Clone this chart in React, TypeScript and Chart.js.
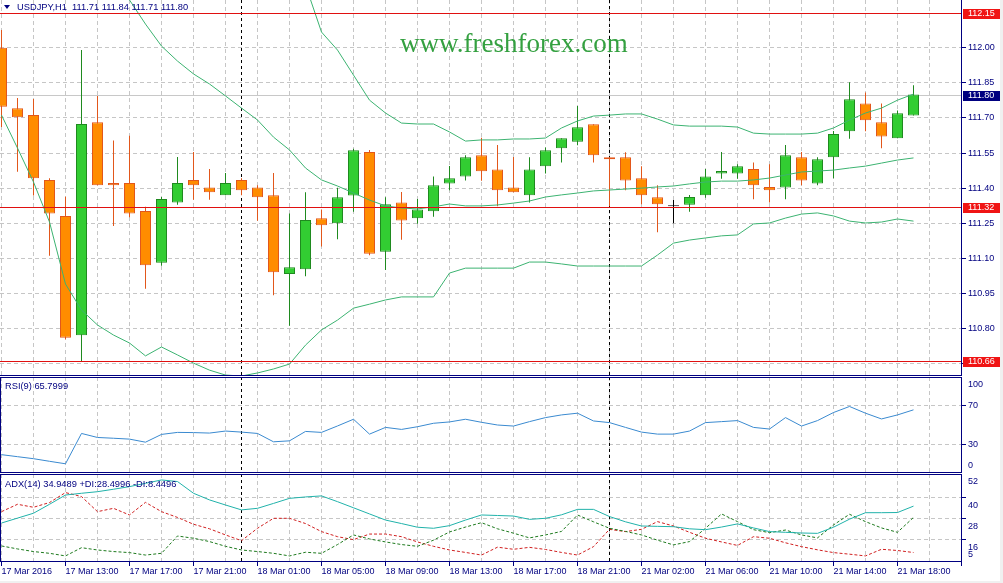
import React, { useEffect, useRef } from "react";
import { Chart, registerables } from "chart.js";

Chart.register(...registerables);
Chart.defaults.font.family = "'Liberation Sans', Arial, sans-serif";
Chart.defaults.font.size = 9;

// ---------------- data ----------------
const symbol = "USDJPY";
const timeframe = "H1";
const tickLabels = [
  "17 Mar 2016", "17 Mar 13:00", "17 Mar 17:00", "17 Mar 21:00", "18 Mar 01:00",
  "18 Mar 05:00", "18 Mar 09:00", "18 Mar 13:00", "18 Mar 17:00", "18 Mar 21:00",
  "21 Mar 02:00", "21 Mar 06:00", "21 Mar 10:00", "21 Mar 14:00", "21 Mar 18:00",
];
const daySeparators = [15, 38];

const opens = [
  112.0, 111.741, 111.712, 111.435, 111.281, 110.771, 111.681, 111.422, 111.422, 111.302,
  111.081, 111.339, 111.435, 111.403, 111.369, 111.435, 111.403, 111.369, 111.033, 111.053,
  111.271, 111.25, 111.368, 111.554, 111.128, 111.339, 111.271, 111.301, 111.42, 111.45,
  111.54, 111.48, 111.403, 111.369, 111.493, 111.57, 111.598, 111.673, 111.532, 111.532,
  111.442, 111.361, 111.323, 111.329, 111.369, 111.463, 111.463, 111.482, 111.405, 111.403,
  111.532, 111.42, 111.532, 111.643, 111.762, 111.681, 111.613, 111.71,
];
const highs = [
  112.076, 111.785, 111.781, 111.442, 111.363, 111.99, 111.794, 111.603, 111.624, 111.32,
  111.362, 111.533, 111.554, 111.482, 111.465, 111.442, 111.412, 111.465, 111.292, 111.382,
  111.309, 111.402, 111.568, 111.563, 111.361, 111.383, 111.353, 111.45, 111.494, 111.541,
  111.615, 111.584, 111.533, 111.532, 111.574, 111.613, 111.751, 111.673, 111.532, 111.553,
  111.493, 111.412, 111.349, 111.371, 111.482, 111.554, 111.502, 111.51, 111.502, 111.584,
  111.554, 111.532, 111.644, 111.852, 111.809, 111.762, 111.732, 111.84,
];
const lows = [
  111.661, 111.47, 111.368, 111.111, 110.754, 110.66, 111.412, 111.238, 111.275, 110.97,
  111.068, 111.329, 111.35, 111.35, 111.369, 111.369, 111.261, 110.942, 110.812, 111.023,
  111.151, 111.181, 111.299, 111.113, 111.05, 111.179, 111.248, 111.278, 111.391, 111.433,
  111.432, 111.323, 111.382, 111.339, 111.462, 111.51, 111.583, 111.51, 111.323, 111.391,
  111.331, 111.211, 111.25, 111.299, 111.359, 111.44, 111.44, 111.352, 111.339, 111.352,
  111.412, 111.412, 111.442, 111.611, 111.643, 111.57, 111.613, 111.71,
];
const closes = [
  111.748, 111.703, 111.442, 111.292, 110.761, 111.674, 111.412, 111.412, 111.292, 111.07,
  111.353, 111.422, 111.412, 111.382, 111.422, 111.391, 111.361, 111.04, 111.062, 111.264,
  111.241, 111.361, 111.562, 111.12, 111.331, 111.262, 111.309, 111.412, 111.442, 111.532,
  111.472, 111.391, 111.382, 111.48, 111.562, 111.613, 111.66, 111.54, 111.523, 111.433,
  111.369, 111.331, 111.323, 111.362, 111.45, 111.473, 111.493, 111.412, 111.391, 111.54,
  111.433, 111.523, 111.631, 111.78, 111.69, 111.621, 111.72, 111.8,
];

const bbUpper = [
  null, null, null, null, null, null, null, null, null, null,
  null, null, null, null, null, null, null, null, 112.46, 112.268,
  112.067, 111.99, 111.883, 111.776, 111.721, 111.678, 111.674, 111.674, 111.64, 111.601,
  111.606, 111.606, 111.61, 111.61, 111.614, 111.657, 111.687, 111.708, 111.712, 111.717,
  111.717, 111.695, 111.67, 111.665, 111.665, 111.665, 111.661, 111.635, 111.631, 111.631,
  111.631, 111.635, 111.657, 111.691, 111.721, 111.742, 111.776, 111.802,
];
const bbMiddle = [
  null, null, null, null, null, null, null, 112.31, 112.204, 112.101,
  112.007, 111.943, 111.888, 111.845, 111.794, 111.742, 111.691, 111.618, 111.563, 111.486,
  111.435, 111.409, 111.379, 111.349, 111.324, 111.315, 111.311, 111.32, 111.332, 111.324,
  111.324, 111.328, 111.336, 111.345, 111.362, 111.371, 111.379, 111.388, 111.392, 111.396,
  111.4, 111.405, 111.409, 111.418, 111.426, 111.43, 111.43, 111.435, 111.443, 111.456,
  111.469, 111.473, 111.477, 111.486, 111.494, 111.507, 111.52, 111.529,
];
const bbLower = [
  111.712, 111.571, 111.426, 111.255, 110.99, 110.879, 110.815, 110.772, 110.738, 110.683,
  110.721, 110.687, 110.652, 110.622, 110.601, 110.597, 110.61, 110.627, 110.648, 110.729,
  110.794, 110.836, 110.887, 110.904, 110.922, 110.935, 110.935, 110.935, 111.037, 111.058,
  111.058, 111.058, 111.058, 111.084, 111.084, 111.076, 111.067, 111.067, 111.067, 111.067,
  111.067, 111.114, 111.165, 111.178, 111.187, 111.196, 111.2, 111.247, 111.251, 111.272,
  111.289, 111.294, 111.281, 111.259, 111.251, 111.255, 111.268, 111.259,
];

const rsiValues = [
  19.1, 17, 14.9, 12.2, 9.6, 41.2, 37, 36.2, 35.3, 32.1,
  40.2, 42.3, 42.1, 41.6, 43.7, 42.6, 41.2, 32.5, 33.5, 43.3,
  42.3, 49, 56, 40.5, 47.5, 45.4, 48.2, 51.8, 53.2, 56,
  52.8, 50, 48.9, 53.5, 57.7, 60.5, 62.3, 54.2, 52.5, 47.5,
  42.6, 40.5, 40.5, 43.7, 52.5, 53.5, 54.6, 47.5, 45.8, 57.7,
  48.9, 54.6, 63, 69.3, 62.3, 56.3, 60.5, 65.7999,
];
const adxValues = [
  25.3, 28.1, 30.9, 36, 41.3, 42.3, 43.2, 44.6, 46.1, 48,
  49.9, 49, 42.3, 38.5, 35.6, 32.8, 33.7, 36.5, 39.4, 40.2,
  40.8, 37.5, 34, 30.5, 27, 25, 22.9, 22.3, 23.8, 27,
  29.9, 29.6, 29.3, 27.4, 28, 30, 33.1, 33.1, 29, 26,
  23.6, 23.4, 23.2, 22, 21.5, 23, 24.8, 22.5, 20.4, 20,
  19.6, 19.4, 22.9, 27.5, 31.2, 31.2, 31.3, 34.9489,
];
const plusDI = [
  12.2, 10.5, 9, 8, 6.5, 11.2, 9.9, 9, 8.4, 7,
  8, 17.9, 16.6, 14.7, 12, 9.9, 9, 8, 6.5, 8.6,
  8, 13, 18.5, 16.2, 14.5, 13, 12, 15.5, 20.2, 23,
  25.5, 22, 19.5, 16.8, 18.5, 20.5, 29.9, 26, 22.3, 20.5,
  18.5, 15.5, 12.8, 14.7, 22.3, 30.5, 26.1, 21.5, 19.8, 21.3,
  18.5, 16.8, 24.2, 30.3, 26.1, 22.5, 20, 28.4996,
];
const minusDI = [
  31.8, 36, 34.3, 37, 42.7, 40.4, 31.8, 33.7, 29.9, 37.1,
  31.8, 28.5, 24.6, 22, 18.5, 15.2, 22.3, 28, 28, 25,
  20.4, 17.5, 15.8, 19, 19, 17.5, 14.5, 12, 9.9, 8.5,
  7, 11.5, 10.3, 11.4, 10.2, 8.5, 7, 11.8, 21.7, 20.4,
  21.7, 26.1, 23.6, 20, 16.6, 14.5, 12.5, 17.5, 16.6, 14,
  11.8, 10, 8.4, 7.5, 6.5, 10.3, 9.6, 8.4496,
];

const priceTicks = [112.0, 111.85, 111.7, 111.55, 111.4, 111.25, 111.1, 110.95, 110.8, 110.65];
const levelLines = [112.15, 111.32, 110.66];
const bidPrice = 111.8;
const rsiTicks = [70, 30];
const rsiBounds = [100, 0];
const adxTicks = [40, 28, 16];
const adxBounds = [52, 5];

// ---------------- layout / style ----------------
const W = 1003;
const AXIS_W = 41;
const BAR_PX = 16;
const X_MIN = -1.5 / BAR_PX;
const X_MAX = X_MIN + (W - AXIS_W) / BAR_PX;
const PRICE_MIN = 110.597;
const PRICE_MAX = 112.204;
const ADX_MIN = 3.03;
const ADX_MAX = 53.31;

const NAVY = "#000080";
const GRID = "#c6c6c6";
const BULL_FILL = "#32cd32";
const BULL_LINE = "#1f8a1f";
const BEAR_FILL = "#ff8c00";
const BEAR_LINE = "#e2571b";
const DOJI = "#000000";
const BB = "#3cb371";
const LEVEL = "#e01010";
const LEVEL_BOX = "#f01414";
const BID_LINE = "#c8c8c8";
const RSI_C = "#3a8ad0";
const ADX_C = "#20b2aa";
const PDI_C = "#1e7a1e";
const MDI_C = "#d02020";
const FONT = "9px 'Liberation Sans', Arial, sans-serif";

const gridIdx: number[] = [];
for (let k = 0; k * BAR_PX < W - AXIS_W; k += 2) gridIdx.push(k);

const decor = {
  id: "decor",
  beforeDatasetsDraw(chart: any, _a: any, o: any) {
    const { ctx, chartArea: ca, scales } = chart;
    ctx.save();
    if (o.bid != null) {
      const py = Math.round(scales.y.getPixelForValue(o.bid));
      ctx.fillStyle = BID_LINE;
      ctx.fillRect(ca.left, py, ca.right - ca.left, 1);
    }
    ctx.strokeStyle = "#000";
    ctx.lineWidth = 1;
    ctx.setLineDash([3, 3]);
    for (const k of daySeparators) {
      const px = Math.floor(scales.x.getPixelForValue(k)) + 0.5;
      ctx.beginPath();
      ctx.moveTo(px, ca.top);
      ctx.lineTo(px, ca.bottom);
      ctx.stroke();
    }
    ctx.restore();
  },
  afterDatasetsDraw(chart: any, _a: any, o: any) {
    if (!o.levels) return;
    const { ctx, chartArea: ca, scales } = chart;
    ctx.save();
    ctx.fillStyle = LEVEL;
    for (const v of o.levels) {
      const py = Math.round(scales.y.getPixelForValue(v));
      ctx.fillRect(ca.left, py, ca.right - ca.left, 1);
    }
    ctx.restore();
  },
  afterDraw(chart: any, _a: any, o: any) {
    const { ctx, chartArea: ca, scales } = chart;
    const w = ca.right - ca.left;
    const h = ca.bottom - ca.top;
    ctx.save();
    ctx.fillStyle = NAVY;
    if (o.frameLeft) ctx.fillRect(ca.left, ca.top, 1, h);
    if (o.frameTop) ctx.fillRect(ca.left, ca.top, w, 1);
    ctx.fillRect(ca.right - 1, ca.top, 1, h);
    ctx.fillRect(ca.left, ca.bottom - 1, w, 1);
    ctx.font = FONT;
    ctx.textBaseline = "middle";
    ctx.textAlign = "left";
    if (o.edges) {
      ctx.fillStyle = NAVY;
      ctx.fillText(String(o.edges[0]), ca.right + 6, ca.top + 8);
      ctx.fillText(String(o.edges[1]), ca.right + 6, ca.bottom - 7.5);
    }
    const box = (v: number, bg: string) => {
      const py = Math.round(scales.y.getPixelForValue(v));
      ctx.fillStyle = bg;
      ctx.fillRect(ca.right + 1, py - 4, 37, 10);
      ctx.fillStyle = "#fff";
      ctx.fillText(v.toFixed(2), ca.right + 6, py + 1);
    };
    if (o.levels) o.levels.forEach((v: number) => box(v, LEVEL_BOX));
    if (o.bid != null) box(o.bid, NAVY);
    ctx.restore();
  },
};

function xScale(showLabels: boolean, height: number) {
  return {
    type: "linear",
    min: X_MIN,
    max: X_MAX,
    offset: false,
    afterBuildTicks: (s: any) => {
      s.ticks = gridIdx.map((v) => ({ value: v }));
    },
    afterFit: (s: any) => {
      s.height = height;
      s.paddingLeft = 0;
      s.paddingRight = 0;
    },
    grid: {
      offset: false,
      color: GRID,
      lineWidth: 1,
      drawTicks: showLabels,
      tickLength: 4,
      tickWidth: 1,
      tickBorderDash: [],
      tickColor: (c: any) => (c.tick && c.tick.value % 4 === 0 ? NAVY : "rgba(0,0,0,0)"),
    },
    border: { display: false, dash: [4, 3] },
    ticks: {
      display: showLabels,
      autoSkip: false,
      maxRotation: 0,
      minRotation: 0,
      align: "start",
      padding: 0,
      color: NAVY,
      font: { size: 9 },
      callback: (v: number) => (v % 4 === 0 && tickLabels[v / 4] ? tickLabels[v / 4] : ""),
    },
  };
}

function yScale(min: number, max: number, ticks: number[], digits: number, labelOffset: number) {
  return {
    type: "linear",
    position: "right",
    min,
    max,
    afterBuildTicks: (s: any) => {
      s.ticks = ticks.map((v) => ({ value: v }));
    },
    afterFit: (s: any) => {
      s.width = AXIS_W;
      s.paddingTop = 0;
      s.paddingBottom = 0;
    },
    grid: {
      color: GRID,
      lineWidth: 1,
      drawTicks: true,
      tickLength: 4,
      tickColor: NAVY,
      tickBorderDash: [],
    },
    border: { display: false, dash: [4, 3] },
    ticks: {
      autoSkip: false,
      color: NAVY,
      padding: 2,
      labelOffset,
      font: { size: 9 },
      callback: (v: number) => Number(v).toFixed(digits),
    },
  };
}

function baseOptions(scales: any, decorOpts: any) {
  return {
    responsive: false,
    maintainAspectRatio: false,
    animation: false,
    devicePixelRatio: 1,
    events: [],
    layout: { padding: 0 },
    plugins: {
      legend: { display: false },
      tooltip: { enabled: false },
      decor: decorOpts,
    },
    scales,
  };
}

const pts = (arr: (number | null)[]) => arr.map((v, i) => ({ x: i, y: v }));

export default function App() {
  const mainRef = useRef<HTMLCanvasElement>(null);
  const rsiRef = useRef<HTMLCanvasElement>(null);
  const adxRef = useRef<HTMLCanvasElement>(null);

  useEffect(() => {
    const dir = opens.map((o, i) => (closes[i] > o ? 1 : closes[i] < o ? -1 : 0));
    const fill = dir.map((d) => (d > 0 ? BULL_FILL : d < 0 ? BEAR_FILL : DOJI));
    const line = dir.map((d) => (d > 0 ? BULL_LINE : d < 0 ? BEAR_LINE : DOJI));

    const bandSet = (arr: (number | null)[]) => ({
      type: "line",
      data: pts(arr),
      borderColor: BB,
      borderWidth: 1,
      pointRadius: 0,
      tension: 0,
      spanGaps: false,
      order: 0,
    });

    const main = new Chart(mainRef.current as any, {
      type: "bar",
      data: {
        datasets: [
          bandSet(bbUpper),
          bandSet(bbMiddle),
          bandSet(bbLower),
          {
            type: "bar",
            data: opens.map((o, i) => ({ x: i, y: [o, closes[i]] })),
            backgroundColor: fill,
            borderColor: line,
            borderWidth: 1,
            borderSkipped: false,
            barThickness: 11,
            grouped: false,
            minBarLength: 1,
            inflateAmount: 0,
            order: 1,
          },
          {
            type: "bar",
            data: lows.map((l, i) => ({ x: i, y: [l, highs[i]] })),
            backgroundColor: line,
            borderWidth: 0,
            barThickness: 1,
            grouped: false,
            inflateAmount: 0,
            order: 2,
          },
        ],
      } as any,
      options: baseOptions(
        { x: xScale(false, 0), y: yScale(PRICE_MIN, PRICE_MAX, priceTicks, 2, 0) },
        { levels: levelLines, bid: bidPrice, frameLeft: false, frameTop: false }
      ) as any,
      plugins: [decor as any],
    });

    const rsi = new Chart(rsiRef.current as any, {
      type: "line",
      data: {
        datasets: [
          {
            data: pts(rsiValues),
            borderColor: RSI_C,
            borderWidth: 1,
            pointRadius: 0,
            tension: 0,
          },
        ],
      } as any,
      options: baseOptions(
        { x: xScale(false, 0), y: yScale(0, 100, rsiTicks, 0, 0) },
        { edges: rsiBounds, frameLeft: true, frameTop: true }
      ) as any,
      plugins: [decor as any],
    });

    const adx = new Chart(adxRef.current as any, {
      type: "line",
      data: {
        datasets: [
          {
            data: pts(adxValues),
            borderColor: ADX_C,
            borderWidth: 1,
            pointRadius: 0,
            tension: 0,
            order: 0,
          },
          {
            data: pts(plusDI),
            borderColor: PDI_C,
            borderWidth: 1,
            borderDash: [3, 2],
            pointRadius: 0,
            tension: 0,
            order: 1,
          },
          {
            data: pts(minusDI),
            borderColor: MDI_C,
            borderWidth: 1,
            borderDash: [3, 2],
            pointRadius: 0,
            tension: 0,
            order: 1,
          },
        ],
      } as any,
      options: baseOptions(
        { x: xScale(true, 21), y: yScale(ADX_MIN, ADX_MAX, adxTicks, 0, 8.4) },
        { edges: adxBounds, frameLeft: true, frameTop: true }
      ) as any,
      plugins: [decor as any],
    });

    return () => {
      main.destroy();
      rsi.destroy();
      adx.destroy();
    };
  }, []);

  const last = opens.length - 1;
  const txt: React.CSSProperties = {
    position: "absolute",
    font: "9.3px 'Liberation Sans', Arial, sans-serif",
    lineHeight: "9.3px",
    color: NAVY,
    whiteSpace: "pre",
  };
  const header = `${symbol},${timeframe}  ${opens[last].toFixed(2)} ${highs[last].toFixed(2)} ${lows[last].toFixed(2)} ${closes[last].toFixed(2)}`;
  const rsiHeader = `RSI(9) ${rsiValues[last].toFixed(4)}`;
  const adxHeader = `ADX(14) ${adxValues[last].toFixed(4)} +DI:${plusDI[last].toFixed(4)} -DI:${minusDI[last].toFixed(4)}`;

  return (
    <div
      style={{
        position: "fixed",
        left: 0,
        top: 0,
        width: W,
        height: 583,
        background: "#fff",
        overflow: "hidden",
      }}
    >
      <canvas ref={mainRef} width={W} height={376} style={{ position: "absolute", left: 0, top: 0, width: W, height: 376 }} />
      <canvas ref={rsiRef} width={W} height={96} style={{ position: "absolute", left: 0, top: 377, width: W, height: 96 }} />
      <canvas ref={adxRef} width={W} height={109} style={{ position: "absolute", left: 0, top: 474, width: W, height: 109 }} />
      <div
        style={{
          position: "absolute",
          left: 4,
          top: 5,
          width: 0,
          height: 0,
          borderLeft: "3px solid transparent",
          borderRight: "3px solid transparent",
          borderTop: `4px solid ${NAVY}`,
        }}
      />
      <div style={{ ...txt, left: 17, top: 3 }}>{header}</div>
      <div style={{ ...txt, left: 5, top: 382 }}>{rsiHeader}</div>
      <div style={{ ...txt, left: 5, top: 480 }}>{adxHeader}</div>
      <div
        style={{
          position: "absolute",
          left: 400,
          top: 30,
          font: "27px 'Liberation Serif', 'Times New Roman', serif",
          lineHeight: "27px",
          color: "#34a040",
          whiteSpace: "pre",
        }}
      >
        www.freshforex.com
      </div>
      <div style={{ position: "absolute", left: 1000, top: 0, width: 3, height: 583, background: "#f0f0f0" }} />
      <div style={{ position: "absolute", left: 0, top: 581, width: W, height: 2, background: "#f0f0f0" }} />
    </div>
  );
}
